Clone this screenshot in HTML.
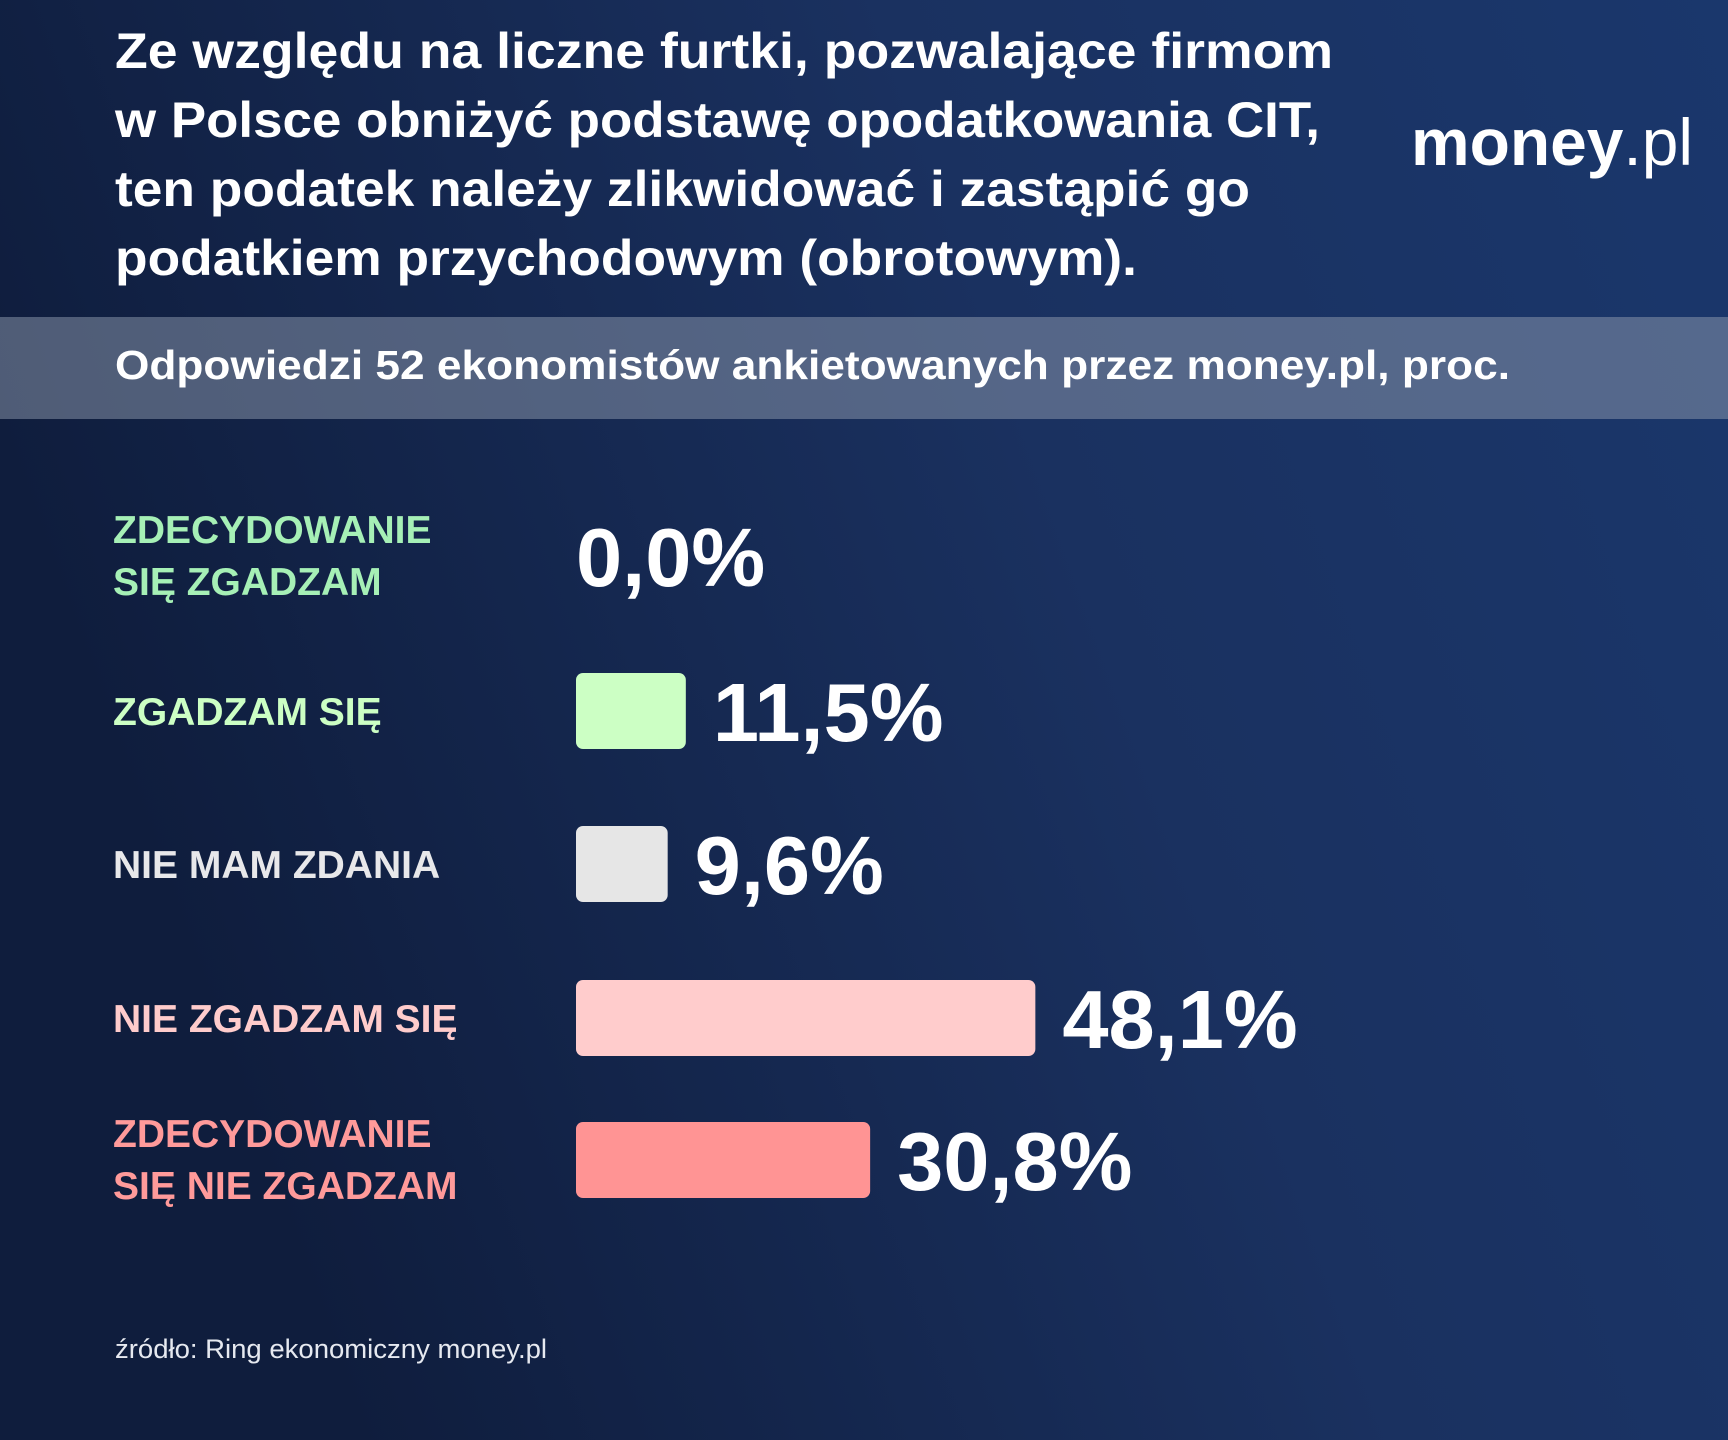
<!DOCTYPE html>
<html><head><meta charset="utf-8"><style>
html,body{margin:0;padding:0;background:#16285a}
svg{display:block}
text{font-family:"Liberation Sans",sans-serif}
</style></head><body>
<svg id="chart" width="1728" height="1440" viewBox="0 0 1728 1440" xmlns="http://www.w3.org/2000/svg">
<defs>
<linearGradient id="bg" x1="0" y1="0.3" x2="1" y2="0">
<stop offset="0" stop-color="#0f1d3d"/><stop offset="0.55" stop-color="#1a3160"/><stop offset="1" stop-color="#1a376c"/>
</linearGradient>
</defs>
<rect width="1728" height="1440" fill="url(#bg)"/>
<g fill="#ffffff" font-weight="bold" font-size="50">
<text x="115" y="68" textLength="1218" lengthAdjust="spacingAndGlyphs">Ze względu na liczne furtki, pozwalające firmom</text>
<text x="115" y="137" textLength="1205" lengthAdjust="spacingAndGlyphs">w Polsce obniżyć podstawę opodatkowania CIT,</text>
<text x="115" y="206" textLength="1135" lengthAdjust="spacingAndGlyphs">ten podatek należy zlikwidować i zastąpić go</text>
<text x="115" y="275" textLength="1022" lengthAdjust="spacingAndGlyphs">podatkiem przychodowym (obrotowym).</text>
</g>
<text x="1411" y="165" fill="#fff" font-size="66" font-weight="bold" textLength="282" lengthAdjust="spacingAndGlyphs">money<tspan font-weight="normal">.pl</tspan></text>
<rect x="0" y="317" width="1728" height="102" fill="#8f9bb0" fill-opacity="0.5"/>
<text x="115" y="379" fill="#fff" font-weight="bold" font-size="41" textLength="1395" lengthAdjust="spacingAndGlyphs">Odpowiedzi 52 ekonomistów ankietowanych przez money.pl, proc.</text>
<g id="rows"></g>
<text x="115" y="1358" fill="#e6e9f0" font-size="27" textLength="432" lengthAdjust="spacingAndGlyphs">źródło: Ring ekonomiczny money.pl</text>
</svg>
<script>
const categories = [["ZDECYDOWANIE","SIĘ ZGADZAM"],["ZGADZAM SIĘ"],["NIE MAM ZDANIA"],["NIE ZGADZAM SIĘ"],["ZDECYDOWANIE","SIĘ NIE ZGADZAM"]];
const values = [0.0, 11.5, 9.6, 48.1, 30.8];
const valueLabels = ["0,0%","11,5%","9,6%","48,1%","30,8%"];
const barColors = ["#ccffc4","#ccffc4","#e6e6e6","#ffcccc","#ff9494"];
const labelColors = ["#a6f0b6","#ccffc4","#e8e8ea","#ffcccc","#ff9a9a"];

const NS = "http://www.w3.org/2000/svg";
const g = document.getElementById('rows');
const x0 = 576, pxPerPct = 9.55;
const xScale = v => v * pxPerPct;
const rowCenters = [556, 711, 864, 1018, 1160];
categories.forEach((lines, i) => {
  const cy = rowCenters[i];
  lines.forEach((ln, j) => {
    const t = document.createElementNS(NS, 'text');
    
    
    t.setAttribute('x', 113);
    const ly = lines.length === 1 ? cy + 14 : cy - 13 + j * 52;
    t.setAttribute('y', ly);
    t.setAttribute('fill', labelColors[i]);
    t.setAttribute('font-weight', 'bold');
    t.setAttribute('font-size', '39');
    t.textContent = ln;
    g.appendChild(t);
  });
  const w = xScale(values[i]);
  if (w > 0) {
    const r = document.createElementNS(NS, 'rect');
    
    
    r.setAttribute('x', x0);
    r.setAttribute('y', cy - 38);
    r.setAttribute('width', w);
    r.setAttribute('height', 76);
    r.setAttribute('rx', 7);
    r.setAttribute('fill', barColors[i]);
    g.appendChild(r);
  }
  const v = document.createElementNS(NS, 'text');
  
  
  v.setAttribute('x', w > 0 ? x0 + w + 27 : x0);
  v.setAttribute('y', cy + 30);
  v.setAttribute('fill', '#ffffff');
  v.setAttribute('font-weight', 'bold');
  v.setAttribute('font-size', '83');
  v.textContent = valueLabels[i];
  g.appendChild(v);
});
</script>
</body></html>
